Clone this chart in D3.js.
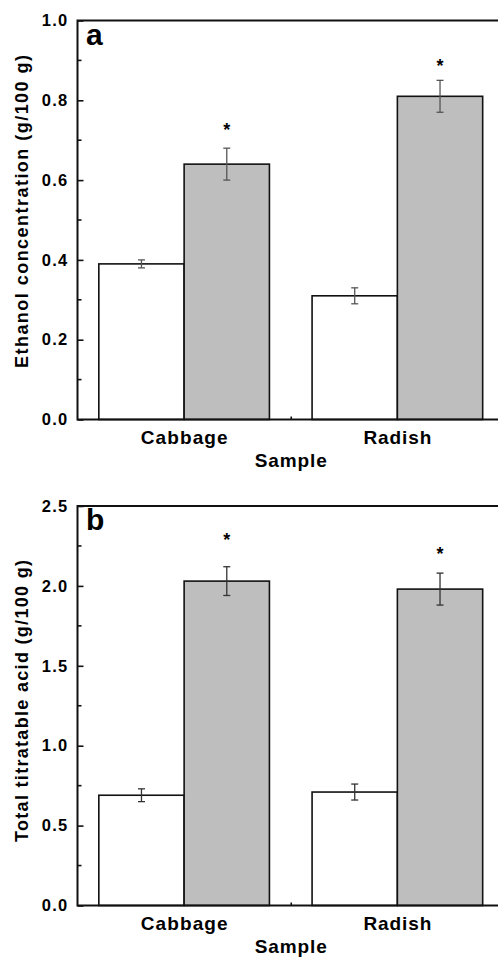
<!DOCTYPE html>
<html>
<script src='https://d3js.org/d3.v7.min.js'></script>
<style>
 body {margin:0; background:#fff;}
 text {font-family: "Liberation Sans", Arial, sans-serif; font-weight: bold; fill: #000;}
</style>
<body onload='init()'>
<svg width=498 height=960></svg>
<script>
// data
var samples = ['Cabbage', 'Radish'];
// panel a: ethanol concentration (g/100 g)
var ethanolCtrl = [0.39, 0.31];
var ethanolCtrlErr = [0.01, 0.02];
var ethanolTrt = [0.64, 0.81];
var ethanolTrtErr = [0.04, 0.04];
var ethanolStar = [0.735, 0.896];
var ethanolTicks = [0, 0.2, 0.4, 0.6, 0.8, 1.0];
// panel b: total titratable acid (g/100 g)
var acidCtrl = [0.69, 0.71];
var acidCtrlErr = [0.04, 0.05];
var acidTrt = [2.03, 1.98];
var acidTrtErr = [0.09, 0.10];
var acidStar = [2.31, 2.226];
var acidTicks = [0, 0.5, 1.0, 1.5, 2.0, 2.5];

function panel(svg, o) {
 var x = d3.scaleLinear().domain([0.5, 2.5]).range([77.5, 504]);
 var y = d3.scaleLinear().domain([0, o.max]).range([o.bottom, o.top]);
 var g = svg.append('g');
 var rows = [];
 samples.forEach(function (s, i) {
  rows.push({cat: i + 1, v: o.ctrl[i], e: o.ctrlErr[i], side: -1, fill: '#fff'});
  rows.push({cat: i + 1, v: o.trt[i], e: o.trtErr[i], side: 0, fill: '#bebebe'});
 });
 g.selectAll('rect.bar').data(rows).enter().append('rect')
  .attr('class', 'bar')
  .attr('x', function (d) { return x(d.cat + d.side * 0.4); })
  .attr('width', x(0.9) - x(0.5))
  .attr('y', function (d) { return y(d.v); })
  .attr('height', function (d) { return y(0) - y(d.v); })
  .attr('fill', function (d) { return d.fill; })
  .attr('stroke', '#111').attr('stroke-width', 1.6);
 // error bars
 var eb = g.selectAll('g.err').data(rows).enter().append('g').attr('class', 'err')
  .attr('stroke', o.errColor).attr('stroke-width', 1.3);
 function cx(d) { return x(d.cat + d.side * 0.4 + 0.2); }
 eb.append('line').attr('x1', cx).attr('x2', cx)
  .attr('y1', function (d) { return y(d.v + d.e); })
  .attr('y2', function (d) { return y(d.v - d.e); });
 [1, -1].forEach(function (s) {
  eb.append('line')
   .attr('x1', function (d) { return cx(d) - 3.5; })
   .attr('x2', function (d) { return cx(d) + 3.5; })
   .attr('y1', function (d) { return y(d.v + s * d.e); })
   .attr('y2', function (d) { return y(d.v + s * d.e); });
 });
 // significance stars
 g.selectAll('text.star').data(o.star).enter().append('text')
  .attr('x', function (d, i) { return x(i + 1.2); })
  .attr('y', function (d) { return y(d) + 10; })
  .attr('text-anchor', 'middle').style('font-size', '18px')
  .text('*');
 // y axis, ticks inside
 var ya = svg.append('g').attr('transform', 'translate(77.5,0)')
  .call(d3.axisLeft(y).tickValues(o.ticks).tickSizeInner(-6).tickSizeOuter(0).tickPadding(9)
   .tickFormat(d3.format('.1f')));
 ya.select('.domain').remove();
 ya.selectAll('line').attr('stroke', '#111').attr('stroke-width', 1.6);
 ya.selectAll('text').style('font-size', '16.5px').style('letter-spacing', '1.3px')
  .attr('font-family', null).attr('fill', '#000');
 var minor = d3.range(o.ticks.length - 1).map(function (i) { return (o.ticks[i] + o.ticks[i + 1]) / 2; });
 svg.append('g').selectAll('line').data(minor).enter().append('line')
  .attr('x1', 77.5).attr('x2', 81.5)
  .attr('y1', function (d) { return y(d); }).attr('y2', function (d) { return y(d); })
  .attr('stroke', '#111').attr('stroke-width', 1.6);
 // x axis: one small inner tick between groups
 var xa = svg.append('g').attr('transform', 'translate(0,' + o.bottom + ')')
  .call(d3.axisBottom(x).tickValues([1.5]).tickSizeInner(-3).tickSizeOuter(0).tickFormat(''));
 xa.select('.domain').remove();
 xa.selectAll('line').attr('stroke', '#111').attr('stroke-width', 1.6);
 // frame
 svg.append('rect').attr('x', 77.5).attr('y', o.top).attr('width', 426).attr('height', o.bottom - o.top)
  .attr('fill', 'none').attr('stroke', '#111').attr('stroke-width', 2);
 // category labels
 var widths = [87, 68];
 svg.selectAll(null).data(samples).enter().append('text')
  .attr('x', function (d, i) { return x(i + 1) - widths[i] / 2; })
  .attr('y', o.bottom + 24.5)
  .attr('textLength', function (d, i) { return widths[i]; })
  .attr('lengthAdjust', 'spacing')
  .style('font-size', '19px')
  .text(function (d) { return d; });
 svg.append('text').attr('x', x(1.5) - 36).attr('y', o.bottom + 47.5)
  .attr('textLength', 72).attr('lengthAdjust', 'spacing')
  .style('font-size', '19px').text('Sample');
 // y title
 svg.append('text')
  .attr('transform', 'translate(28,' + (o.titleMid + o.titleLen / 2) + ') rotate(-90)')
  .attr('textLength', o.titleLen).attr('lengthAdjust', 'spacing')
  .style('font-size', '18px').text(o.title);
 // panel letter
 svg.append('text').attr('x', 86).attr('y', o.top + 24).style('font-size', '30px').text(o.letter);
}

function init() {
 var svg = d3.select('svg');
 panel(svg, {max: 1.0, top: 20.5, bottom: 419.5, ctrl: ethanolCtrl, ctrlErr: ethanolCtrlErr,
  trt: ethanolTrt, trtErr: ethanolTrtErr, star: ethanolStar, ticks: ethanolTicks, errColor: '#555',
  title: 'Ethanol concentration (g/100 g)', titleMid: 211.5, titleLen: 313, letter: 'a'});
 panel(svg, {max: 2.5, top: 506, bottom: 905.5, ctrl: acidCtrl, ctrlErr: acidCtrlErr,
  trt: acidTrt, trtErr: acidTrtErr, star: acidStar, ticks: acidTicks, errColor: '#333',
  title: 'Total titratable acid (g/100 g)', titleMid: 701, titleLen: 282, letter: 'b'});
}
</script>
</body>
</html>
